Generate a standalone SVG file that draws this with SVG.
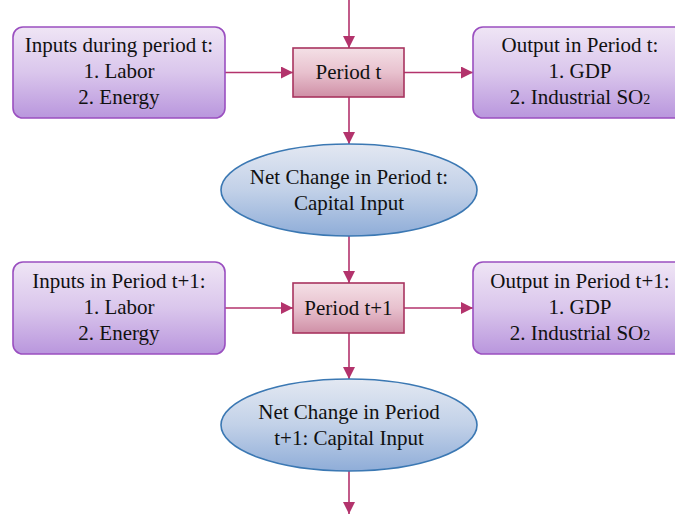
<svg xmlns="http://www.w3.org/2000/svg" width="675" height="516" viewBox="0 0 675 516">
<defs>
<linearGradient id="gPurple" x1="0" y1="0" x2="0" y2="1">
<stop offset="0" stop-color="#efe5f5"/>
<stop offset="0.5" stop-color="#dac6ec"/>
<stop offset="1" stop-color="#b996dd"/>
</linearGradient>
<linearGradient id="gPink" x1="0" y1="0" x2="0" y2="1">
<stop offset="0" stop-color="#f4e0e6"/>
<stop offset="0.5" stop-color="#e8c1ce"/>
<stop offset="1" stop-color="#cf8fa6"/>
</linearGradient>
<linearGradient id="gBlue" x1="0" y1="0" x2="0" y2="1">
<stop offset="0" stop-color="#e3e8f2"/>
<stop offset="0.5" stop-color="#c2d1e8"/>
<stop offset="1" stop-color="#8fadd8"/>
</linearGradient>
<marker id="arr" viewBox="0 0 12 12" refX="12" refY="6" markerWidth="12" markerHeight="12" markerUnits="userSpaceOnUse" orient="auto">
<path d="M0,0 L12,6 L0,12 Z" fill="#b3336c"/>
</marker>
</defs>
<style>
.pbox{fill:url(#gPurple);stroke:#9a4fc0;stroke-width:1.6}
.kbox{fill:url(#gPink);stroke:#a8345f;stroke-width:1.6}
.ell{fill:url(#gBlue);stroke:#3b78b3;stroke-width:1.6}
.t{font-family:'Liberation Serif','Times New Roman',serif;font-size:21px;fill:#111;text-anchor:middle}
.c{stroke:#b3336c;stroke-width:1.6;fill:none;marker-end:url(#arr)}
</style>
<rect width="675" height="516" fill="#fff"/>
<g id="connectors">
<line class="c" x1="349" y1="0" x2="349" y2="48"/>
<line class="c" x1="225" y1="72.5" x2="293" y2="72.5"/>
<line class="c" x1="404" y1="72.5" x2="473" y2="72.5"/>
<line class="c" x1="349" y1="97" x2="349" y2="144"/>
<line class="c" x1="349" y1="236" x2="349" y2="283"/>
<line class="c" x1="225" y1="308" x2="293" y2="308"/>
<line class="c" x1="404" y1="308" x2="473" y2="308"/>
<line class="c" x1="349" y1="333" x2="349" y2="379"/>
<line class="c" x1="349" y1="471" x2="349" y2="514"/>
</g>
<g id="inputs_t">
<rect class="pbox" x="13" y="27" width="212" height="91" rx="10"/>
<text class="t" x="119" y="52">Inputs during period t:</text>
<text class="t" x="119" y="78">1. Labor</text>
<text class="t" x="119" y="104">2. Energy</text>
</g>
<g id="period_t">
<rect class="kbox" x="293" y="48" width="111" height="49"/>
<text class="t" x="348.5" y="79">Period t</text>
</g>
<g id="output_t">
<rect class="pbox" x="473" y="27" width="214" height="91" rx="10"/>
<text class="t" x="580" y="52">Output in Period t:</text>
<text class="t" x="580" y="78">1. GDP</text>
<text class="t" x="580" y="104">2. Industrial SO<tspan font-size="14">2</tspan></text>
</g>
<g id="net_t">
<ellipse class="ell" cx="349" cy="190" rx="128" ry="46"/>
<text class="t" x="349" y="184">Net Change in Period t:</text>
<text class="t" x="349" y="210">Capital Input</text>
</g>
<g id="inputs_t1">
<rect class="pbox" x="13" y="262" width="212" height="92" rx="10"/>
<text class="t" x="119" y="288">Inputs in Period t+1:</text>
<text class="t" x="119" y="314">1. Labor</text>
<text class="t" x="119" y="340">2. Energy</text>
</g>
<g id="period_t1">
<rect class="kbox" x="293" y="283" width="111" height="50"/>
<text class="t" x="348.5" y="315">Period t+1</text>
</g>
<g id="output_t1">
<rect class="pbox" x="473" y="262" width="214" height="92" rx="10"/>
<text class="t" x="580" y="288">Output in Period t+1:</text>
<text class="t" x="580" y="314">1. GDP</text>
<text class="t" x="580" y="340">2. Industrial SO<tspan font-size="14">2</tspan></text>
</g>
<g id="net_t1">
<ellipse class="ell" cx="349" cy="425" rx="128" ry="46"/>
<text class="t" x="349" y="419">Net Change in Period</text>
<text class="t" x="349" y="445">t+1: Capital Input</text>
</g>
</svg>
